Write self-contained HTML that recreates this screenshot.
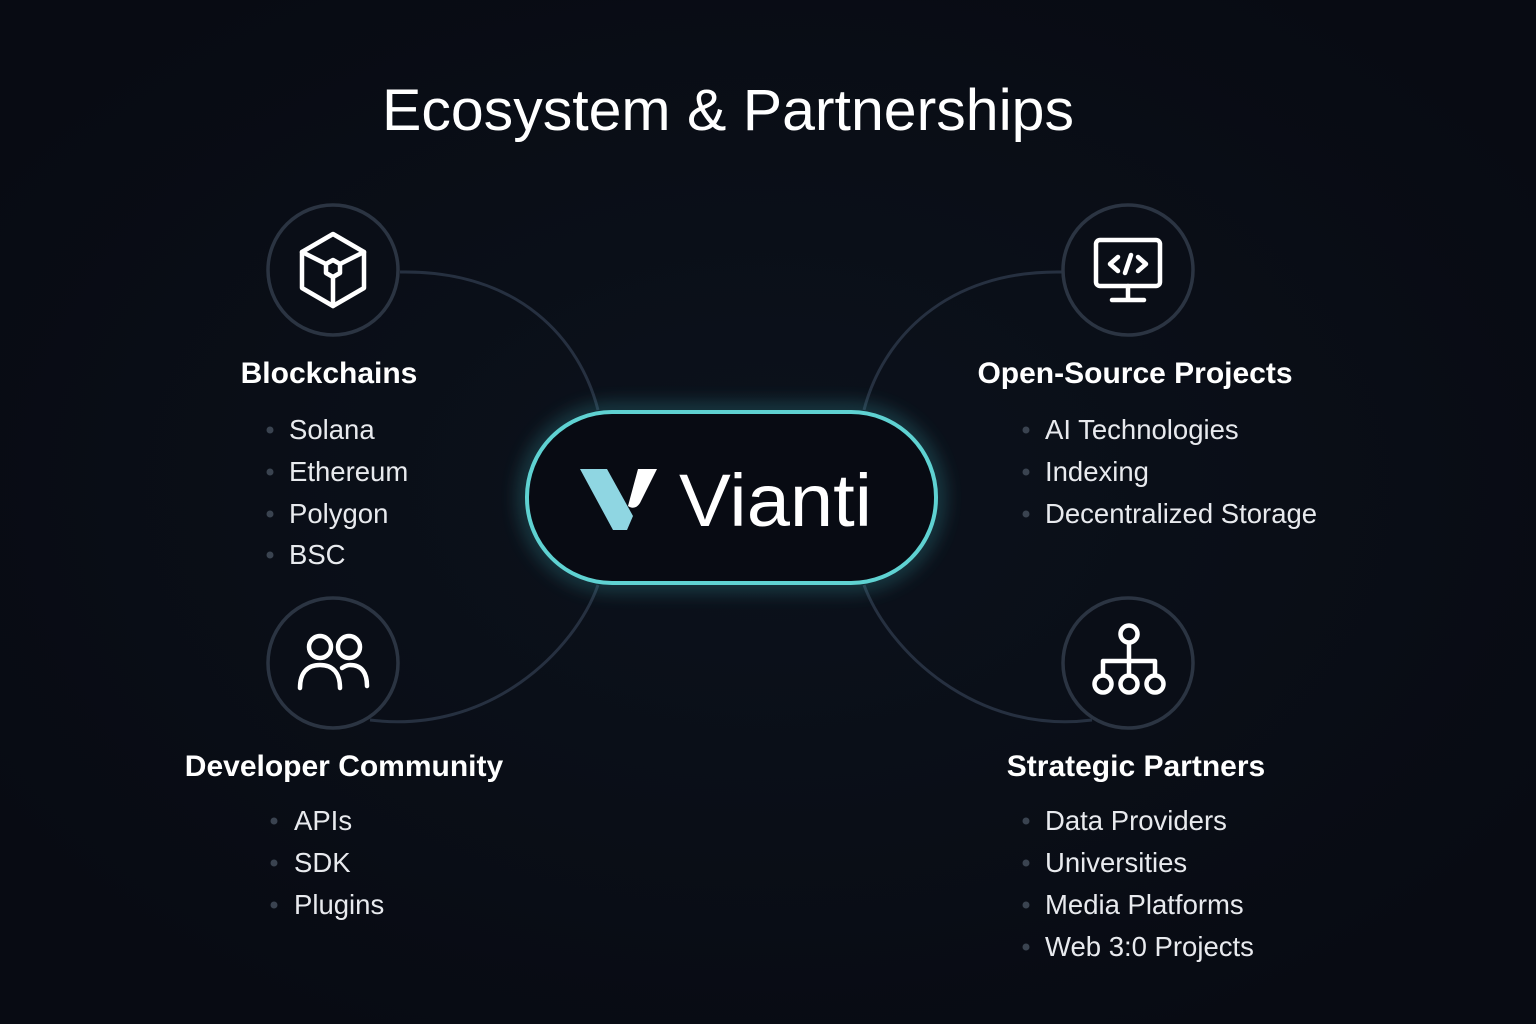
<!DOCTYPE html>
<html><head><style>
html,body{margin:0;padding:0;background:#0a0e17;}
svg{display:block;font-family:"Liberation Sans","DejaVu Sans",sans-serif;}
</style></head><body>
<svg width="1536" height="1024" viewBox="0 0 1536 1024" xmlns="http://www.w3.org/2000/svg">
<defs>
<radialGradient id="bg" cx="50%" cy="48%" r="60%"><stop offset="0" stop-color="#0c121c"/><stop offset="1" stop-color="#080b13"/></radialGradient>
<filter id="glow" x="-30%" y="-50%" width="160%" height="200%"><feGaussianBlur stdDeviation="10"/></filter>
</defs>
<rect width="1536" height="1024" fill="url(#bg)"/>
<text x="728" y="130" text-anchor="middle" fill="#fff" font-size="58" font-weight="500" textLength="692" lengthAdjust="spacingAndGlyphs">Ecosystem &amp; Partnerships</text>
<g fill="none" stroke="#263040" stroke-width="3">
<path d="M400,272 C520,270 580,340 598,410"/>
<path d="M1062,272 C945,270 882,340 864,410"/>
<path d="M370,720 C490,735 575,650 598,585"/>
<path d="M1092,720 C975,735 888,650 864,585"/>
</g>
<g fill="#0a0e17" stroke="#2b3442" stroke-width="3.5">
<circle cx="333" cy="270" r="65"/><circle cx="1128" cy="270" r="65"/>
<circle cx="333" cy="663" r="65"/><circle cx="1128" cy="663" r="65"/>
</g>
<g fill="none" stroke="#fff" stroke-width="4.5" stroke-linejoin="round" stroke-linecap="round">
<path d="M333,234 L364,252 L364,288 L333,306 L302,288 L302,252 Z"/>
<path d="M326,264 L333,260 L340,264 L340,273 L333,277 L326,273 Z"/>
<path d="M302,252 L326,264 M364,252 L340,264 M333,277 L333,306"/>
<rect x="1096" y="240" width="64" height="46" rx="4"/>
<path d="M1128,286 L1128,298 M1112,300 L1144,300"/>
<path d="M1118,257 L1110,264 L1118,271 M1138,257 L1146,264 L1138,271 M1131,255 L1125,273"/>
<circle cx="320" cy="647" r="11"/><circle cx="349" cy="647" r="11"/>
<path d="M300,688 C300,672 308,665 320,665 C332,665 340,672 340,688"/>
<path d="M342,668 C345,666 347,665 350,665 C362,665 367,673 367,686"/>
<circle cx="1129" cy="634" r="8.5"/>
<circle cx="1103" cy="684" r="8.5"/><circle cx="1129" cy="684" r="8.5"/><circle cx="1155" cy="684" r="8.5"/>
<path d="M1129,643 L1129,675 M1103,675 L1103,661 L1155,661 L1155,675"/>
</g>
<rect x="527" y="412" width="409" height="171" rx="85" fill="none" stroke="#3fb8c0" stroke-width="8" filter="url(#glow)" opacity="0.6"/>
<rect x="527" y="412" width="409" height="171" rx="85" fill="#080b13" stroke="#5fd2d2" stroke-width="4"/>
<path d="M580,469 L607,469 L633,516 L627,530 L613,530 Z" fill="#8fd6e2"/>
<path d="M638,469 L657,469 L640,503 C637,508 632,509 628,506 Z" fill="#fff"/>
<text x="679" y="526" fill="#fff" font-size="74" font-weight="500" textLength="193" lengthAdjust="spacingAndGlyphs">Vianti</text>
<g fill="#fff" font-size="30" font-weight="700" text-anchor="middle">
<text x="329" y="383">Blockchains</text>
<text x="1135" y="383">Open-Source Projects</text>
<text x="344" y="776">Developer Community</text>
<text x="1136" y="776">Strategic Partners</text>
</g>
<g fill="#e8eaee" font-size="27.5">
<text x="289" y="439">Solana</text><text x="289" y="481">Ethereum</text><text x="289" y="523">Polygon</text><text x="289" y="564">BSC</text>
<text x="1045" y="439">AI Technologies</text><text x="1045" y="481">Indexing</text><text x="1045" y="523">Decentralized Storage</text>
<text x="294" y="830">APIs</text><text x="294" y="872">SDK</text><text x="294" y="914">Plugins</text>
<text x="1045" y="830">Data Providers</text><text x="1045" y="872">Universities</text><text x="1045" y="914">Media Platforms</text><text x="1045" y="956">Web 3:0 Projects</text>
</g>
<g fill="#3a4350">
<circle cx="270" cy="430" r="3.5"/><circle cx="270" cy="472" r="3.5"/><circle cx="270" cy="514" r="3.5"/><circle cx="270" cy="555" r="3.5"/>
<circle cx="1026" cy="430" r="3.5"/><circle cx="1026" cy="472" r="3.5"/><circle cx="1026" cy="514" r="3.5"/>
<circle cx="274" cy="821" r="3.5"/><circle cx="274" cy="863" r="3.5"/><circle cx="274" cy="905" r="3.5"/>
<circle cx="1026" cy="821" r="3.5"/><circle cx="1026" cy="863" r="3.5"/><circle cx="1026" cy="905" r="3.5"/><circle cx="1026" cy="947" r="3.5"/>
</g>
</svg>
</body></html>
